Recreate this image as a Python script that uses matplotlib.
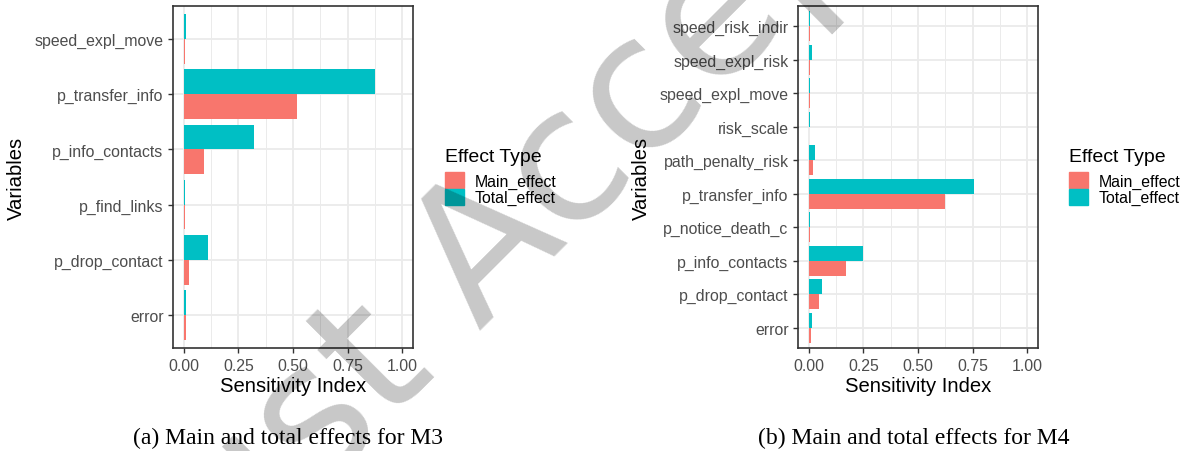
import matplotlib
matplotlib.use("Agg")
import matplotlib.pyplot as plt
from matplotlib.patches import Patch
from matplotlib.ticker import MultipleLocator
import numpy as np

plt.rcParams['font.family'] = ['Liberation Sans', 'DejaVu Sans']

# M3 data (bottom to top)
m3_vars = ['error', 'p_drop_contact', 'p_find_links', 'p_info_contacts',
           'p_transfer_info', 'speed_expl_move']
m3_main = [0.009, 0.024, 0.003, 0.091, 0.520, 0.004]
m3_total = [0.009, 0.111, 0.005, 0.321, 0.878, 0.009]

# M4 data (bottom to top)
m4_vars = ['error', 'p_drop_contact', 'p_info_contacts', 'p_notice_death_c',
           'p_transfer_info', 'path_penalty_risk', 'risk_scale',
           'speed_expl_move', 'speed_expl_risk', 'speed_risk_indir']
m4_main = [0.009, 0.046, 0.169, 0.006, 0.626, 0.018, 0.002, 0.003, 0.003, 0.003]
m4_total = [0.014, 0.058, 0.247, 0.003, 0.758, 0.027, 0.003, 0.003, 0.014, 0.004]

xticks = [0.0, 0.25, 0.5, 0.75, 1.0]
effect_types = ['Main_effect', 'Total_effect']
colors = ['#F8766D', '#00BFC4']

W, H = 1188, 452
fig = plt.figure(figsize=(W / 100, H / 100), dpi=100)


def panel(rect, names, main, total):
    ax = fig.add_axes(rect)
    y = np.arange(len(names))
    ax.barh(y - 0.225, main, height=0.45, color=colors[0], zorder=2)
    ax.barh(y + 0.225, total, height=0.45, color=colors[1], zorder=2)
    ax.set_xlim(-0.05, 1.05)
    ax.set_ylim(-0.6, len(names) - 0.4)
    ax.set_yticks(y)
    ax.set_yticklabels(names)
    ax.set_xticks(xticks)
    ax.set_xticklabels(['%.2f' % v for v in xticks])
    ax.xaxis.set_minor_locator(MultipleLocator(0.125))
    ax.grid(which='major', color='#EBEBEB', lw=1.3, zorder=0)
    ax.grid(which='minor', axis='x', color='#EBEBEB', lw=0.7, zorder=0)
    ax.set_axisbelow(True)
    for s in ax.spines.values():
        s.set_color('#333333')
        s.set_linewidth(1.2)
    ax.tick_params(which='major', length=3.4, width=1.0, color='#333333',
                   labelcolor='#4D4D4D', labelsize=11.4)
    ax.tick_params(axis='y', pad=3.4)
    ax.tick_params(axis='x', pad=4)
    ax.tick_params(which='minor', length=0)
    ax.set_xlabel('Sensitivity Index', fontsize=14.6, labelpad=2)
    ax.set_ylabel('Variables', fontsize=14.6, labelpad=6)
    handles = [Patch(color=c, label=l) for c, l in zip(colors, effect_types)]
    return ax, handles


def px(x0, x1, y0, y1):
    return [x0 / W, 1 - y1 / H, (x1 - x0) / W, (y1 - y0) / H]


ax1, h1 = panel(px(173, 413, 7, 349), m3_vars, m3_main, m3_total)
ax2, h2 = panel(px(798, 1038, 7, 349), m4_vars, m4_main, m4_total)

for ax, h, lx in [(ax1, h1, 445), (ax2, h2, 1069)]:
    ax.legend(handles=h, loc='upper left',
              bbox_to_anchor=(lx / W, 1 - 173 / H), bbox_transform=fig.transFigure,
              frameon=False, fontsize=11.4,
              handlelength=1.2, handleheight=1.2, handletextpad=0.7,
              labelspacing=0, borderpad=0, borderaxespad=0)
    fig.text(lx / W, 1 - 162 / H, 'Effect Type', fontsize=14, ha='left',
             va='baseline')

fig.text(288 / W, 1 - 438 / H, '(a) Main and total effects for M3',
         family='Liberation Serif', fontsize=17, ha='center', va='center')
fig.text(914 / W, 1 - 438 / H, '(b) Main and total effects for M4',
         family='Liberation Serif', fontsize=17, ha='center', va='center')

# watermark, baseline starts below the figure
fig.text(199 / W, 1 - 622 / H, 'Just Accepted', rotation=45, fontsize=134,
         family='DejaVu Sans', color='black', alpha=0.22, ha='left',
         va='baseline', rotation_mode='anchor', zorder=10)

fig.savefig('out.png', dpi=100)
